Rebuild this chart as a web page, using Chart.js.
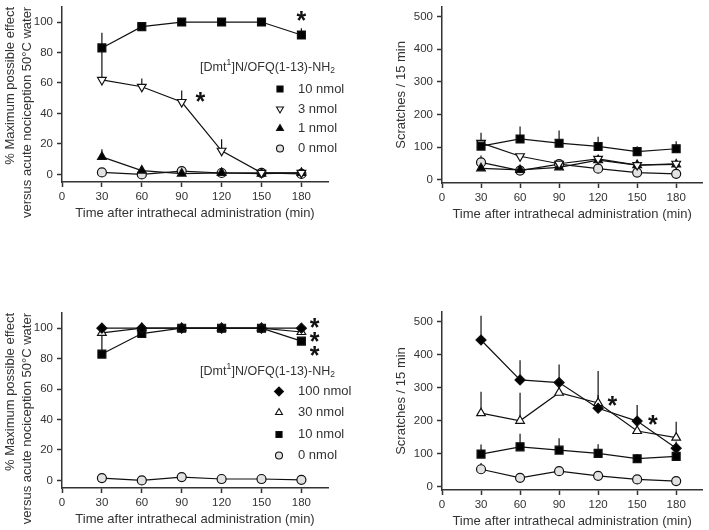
<!DOCTYPE html>
<html>
<head>
<meta charset="utf-8">
<script src="https://cdn.jsdelivr.net/npm/chart.js@4.4.1/dist/chart.umd.min.js"></script>
<style>
  body { margin: 0; background: #fff; }
  #wrap { position: relative; width: 709px; height: 530px; }
  #wrap canvas { position: absolute; }
</style>
</head>
<body>
<div id="wrap">
  <canvas id="c1" width="354" height="265" style="left:0;top:0"></canvas>
  <canvas id="c2" width="355" height="265" style="left:354px;top:0"></canvas>
  <canvas id="c3" width="354" height="265" style="left:0;top:265px"></canvas>
  <canvas id="c4" width="355" height="265" style="left:354px;top:265px"></canvas>
</div>
<script>
// ---- data ----
const times = [30, 60, 90, 120, 150, 180];
const xTicks = [0, 30, 60, 90, 120, 150, 180];
const mpeTicks = [0, 20, 40, 60, 80, 100];
const scratchTicks = [0, 100, 200, 300, 400, 500];

const xTitle = 'Time after intrathecal administration (min)';
const mpeTitle = ['% Maximum possible effect', 'versus acute nociception 50°C water'];
const scratchTitle = 'Scratches / 15 min';
const legendTitle = ['[Dmt', '1', ']N/OFQ(1-13)-NH', '2'];

// top row: 10, 3, 1, 0 nmol
const lowDoses = ['10 nmol', '3 nmol', '1 nmol', '0 nmol'];
const mpe10 = [83, 97, 100, 100, 100, 91.5];
const mpe10Sem = [10, 2, 0, 0, 0, 4.5];
const mpe3 = [62, 57.5, 47.5, 15.5, 1, 1];
const mpe3Sem = [21, 5.5, 7.5, 7.5, 0, 0];
const mpe1 = [11.5, 2.5, 0.5, 1, 0.5, 1];
const mpe1Sem = [5, 0, 0, 0, 0, 0];
const mpe0 = [1.3, 0, 2.2, 0.9, 1, 0.3];
const mpe0Sem = [0, 0, 0, 0, 0, 0];
const mpeLowStars = [[180, 104], [104, 51]];

const scr10 = [103, 125, 112, 102, 86, 95];
const scr10Sem = [41, 38, 39, 30, 17, 23];
const scr3 = [113, 72, 49, 64, 45, 49];
const scr3Sem = [0, 0, 0, 0, 0, 0];
const scr1 = [35, 30, 38, 60, 45, 47];
const scr1Sem = [0, 0, 0, 0, 0, 0];
const scr0 = [53, 28, 48, 34, 22, 18];
const scr0Sem = [21, 0, 0, 0, 0, 0];

// bottom row: 100, 30, 10, 0 nmol
const highDoses = ['100 nmol', '30 nmol', '10 nmol', '0 nmol'];
const mpeH100 = [100, 100, 100, 100, 100, 100];
const mpeH100Sem = [0, 0, 0, 0, 0, 0];
const mpeH30 = [97, 100, 100, 100, 100, 97.5];
const mpeH30Sem = [0, 0, 0, 0, 0, 0];
const mpeH10 = [83, 96.5, 100, 100, 100, 91.5];
const mpeH10Sem = [12.5, 0, 0, 0, 0, 0];
const mpeH0 = [1.5, 0, 2.2, 0.9, 0.9, 0.4];
const mpeH0Sem = [0, 0, 0, 0, 0, 0];
const mpeHighStars = [[190, 103.5], [190, 94.3], [190, 85.2]];

const scrH100 = [445, 324, 316, 238, 199, 117];
const scrH100Sem = [74, 60, 55, 40, 49, 20];
const scrH30 = [223, 200, 285, 254, 169, 149];
const scrH30Sem = [65, 85, 30, 97, 20, 48];
const scrH10 = [99, 121, 111, 101, 85, 92];
const scrH10Sem = [29, 40, 36, 28, 14, 17];
const scrH0 = [53, 27, 47, 33, 22, 17];
const scrH0Sem = [19, 0, 0, 0, 0, 0];
const scrHighStars = [[131, 260], [162, 202]];

// ---- styling ----
const FONT = '"Liberation Sans", Arial, sans-serif';
const INK = '#333';
Chart.defaults.font.family = FONT;
Chart.defaults.color = INK;

const markers = {
  square:  { pointStyle: 'rect', pointRadius: 5.6, pointRotation: 0, pointBackgroundColor: '#000', lr: 4.3 },
  down:    { pointStyle: 'triangle', pointRadius: 5, pointRotation: 180, pointBackgroundColor: '#fff', lr: 4 },
  up:      { pointStyle: 'triangle', pointRadius: 5, pointRotation: 0, pointBackgroundColor: '#000', lr: 4 },
  upOpen:  { pointStyle: 'triangle', pointRadius: 5, pointRotation: 0, pointBackgroundColor: '#fff', lr: 4 },
  circle:  { pointStyle: 'circle', pointRadius: 4.5, pointRotation: 0, pointBackgroundColor: '#e2e2e2', lr: 3.5 },
  diamond: { pointStyle: 'rectRot', pointRadius: 5, pointRotation: 0, pointBackgroundColor: '#000', lr: 4.5 }
};

function series(label, values, sem, kind) {
  const m = markers[kind];
  return {
    label: label,
    data: times.map((t, i) => ({ x: t, y: values[i] })),
    sem: sem,
    legendRadius: m.lr,
    borderColor: '#111',
    borderWidth: 1.2,
    pointBorderColor: '#111',
    pointBorderWidth: 1.2,
    pointStyle: m.pointStyle,
    pointRadius: m.pointRadius,
    pointRotation: m.pointRotation,
    pointBackgroundColor: m.pointBackgroundColor,
    tension: 0
  };
}

// error bars, stars and the inset legend
const extrasPlugin = {
  id: 'extras',
  beforeDatasetsDraw(chart) {
    const ctx = chart.ctx;
    const ys = chart.scales.y;
    ctx.save();
    ctx.strokeStyle = '#111';
    ctx.lineWidth = 1.2;
    chart.data.datasets.forEach((ds, i) => {
      const meta = chart.getDatasetMeta(i);
      meta.data.forEach((pt, j) => {
        const s = ds.sem[j];
        if (!s) return;
        const top = ys.getPixelForValue(ds.data[j].y + s);
        ctx.beginPath();
        ctx.moveTo(pt.x, pt.y);
        ctx.lineTo(pt.x, top);
        ctx.stroke();
      });
    });
    ctx.restore();
  },
  afterDatasetsDraw(chart, args, opts) {
    const ctx = chart.ctx;
    const xs = chart.scales.x, ys = chart.scales.y;
    ctx.save();
    // stars
    ctx.fillStyle = '#111';
    ctx.font = 'bold 25px ' + FONT;
    ctx.textAlign = 'center';
    ctx.textBaseline = 'alphabetic';
    const m = ctx.measureText('*');
    const shift = (m.actualBoundingBoxAscent - m.actualBoundingBoxDescent) / 2;
    (opts.stars || []).forEach(s => {
      ctx.fillText('*', xs.getPixelForValue(s[0]), ys.getPixelForValue(s[1]) + shift);
    });
    // legend
    const lg = opts.legend;
    if (lg) {
      ctx.fillStyle = INK;
      ctx.textAlign = 'left';
      ctx.textBaseline = 'middle';
      let x = lg.titleX;
      legendTitle.forEach((part, k) => {
        const small = k % 2 === 1;
        ctx.font = (small ? '8.5px ' : '12.5px ') + FONT;
        const dy = small ? (k === 1 ? -5 : 3.5) : 0;
        ctx.fillText(part, x, lg.titleY + dy);
        x += ctx.measureText(part).width + (small ? 0.5 : 0);
      });
      ctx.font = '13px ' + FONT;
      chart.data.datasets.forEach((ds, i) => {
        const y = lg.ys[i];
        ctx.fillStyle = ds.pointBackgroundColor;
        ctx.strokeStyle = '#111';
        ctx.lineWidth = 1.1;
        Chart.helpers.drawPoint(ctx, {
          pointStyle: ds.pointStyle, rotation: ds.pointRotation,
          radius: ds.legendRadius, borderWidth: 1.1
        }, lg.markerX, y);
        ctx.fillStyle = INK;
        ctx.fillText(ds.label, lg.textX, y);
      });
    }
    ctx.restore();
  }
};

function makePanel(id, cfg) {
  return new Chart(document.getElementById(id), {
    type: 'line',
    data: { datasets: cfg.datasets },
    options: {
      responsive: false,
      animation: false,
      devicePixelRatio: 1,
      layout: { padding: cfg.padding },
      plugins: {
        legend: { display: false },
        tooltip: { enabled: false },
        extras: { stars: cfg.stars, legend: cfg.legend }
      },
      scales: {
        x: {
          type: 'linear', min: 0, max: 200,
          afterBuildTicks: s => { s.ticks = xTicks.map(v => ({ value: v })); },
          afterFit: s => { s.height = 40; s.paddingLeft = 0; s.paddingRight = 0; },
          grid: { drawOnChartArea: false, drawTicks: true, tickLength: 5, tickWidth: 1.5, tickColor: INK },
          border: { color: INK, width: 1.5 },
          ticks: { padding: 3, maxRotation: 0, font: { size: 11.5 }, color: INK },
          title: { display: true, text: xTitle, font: { size: 13, lineHeight: 1.3 }, padding: 0, color: INK }
        },
        y: {
          min: cfg.yMin, max: cfg.yMax,
          afterBuildTicks: s => { s.ticks = cfg.yTicks.map(v => ({ value: v })); },
          afterFit: s => { s.width = cfg.yWidth; s.paddingTop = 0; s.paddingBottom = 0; },
          grid: { drawOnChartArea: false, drawTicks: true, tickLength: 5, tickWidth: 1.5, tickColor: INK },
          border: { color: INK, width: 1.5 },
          ticks: { padding: 4, font: { size: 11.5 }, color: INK },
          title: {
            display: true, text: cfg.yTitle, align: cfg.yAlign,
            font: { size: 13, lineHeight: 1.3 }, padding: { top: cfg.yTitlePad, bottom: 0 }, color: INK
          }
        }
      }
    },
    plugins: [extrasPlugin]
  });
}

makePanel('c1', {
  datasets: [
    series(lowDoses[0], mpe10, mpe10Sem, 'square'),
    series(lowDoses[1], mpe3, mpe3Sem, 'down'),
    series(lowDoses[2], mpe1, mpe1Sem, 'up'),
    series(lowDoses[3], mpe0, mpe0Sem, 'circle')
  ],
  padding: { left: 0, top: 5, right: 26, bottom: 43 },
  yWidth: 62, yMin: -5, yMax: 110, yTicks: mpeTicks,
  yTitle: mpeTitle, yAlign: 'end', yTitlePad: 2,
  stars: mpeLowStars,
  legend: { titleX: 200, titleY: 67.5, markerX: 280, textX: 298, ys: [89, 109, 128.5, 148.5] }
});

makePanel('c2', {
  datasets: [
    series(lowDoses[0], scr10, scr10Sem, 'square'),
    series(lowDoses[1], scr3, scr3Sem, 'down'),
    series(lowDoses[2], scr1, scr1Sem, 'up'),
    series(lowDoses[3], scr0, scr0Sem, 'circle')
  ],
  padding: { left: 0, top: 5, right: 2, bottom: 42 },
  yWidth: 88, yMin: -10, yMax: 530, yTicks: scratchTicks,
  yTitle: scratchTitle, yAlign: 'center', yTitlePad: 39,
  stars: []
});

makePanel('c3', {
  datasets: [
    series(highDoses[0], mpeH100, mpeH100Sem, 'diamond'),
    series(highDoses[1], mpeH30, mpeH30Sem, 'upOpen'),
    series(highDoses[2], mpeH10, mpeH10Sem, 'square'),
    series(highDoses[3], mpeH0, mpeH0Sem, 'circle')
  ],
  padding: { left: 0, top: 48, right: 26, bottom: 2 },
  yWidth: 62, yMin: -5, yMax: 110, yTicks: mpeTicks,
  yTitle: mpeTitle, yAlign: 'end', yTitlePad: 2,
  stars: mpeHighStars,
  legend: { titleX: 200, titleY: 106.5, markerX: 279, textX: 298, ys: [126.5, 147.5, 169.5, 190.5] }
});

makePanel('c4', {
  datasets: [
    series(highDoses[0], scrH100, scrH100Sem, 'diamond'),
    series(highDoses[1], scrH30, scrH30Sem, 'upOpen'),
    series(highDoses[2], scrH10, scrH10Sem, 'square'),
    series(highDoses[3], scrH0, scrH0Sem, 'circle')
  ],
  padding: { left: 0, top: 47, right: 2, bottom: 0 },
  yWidth: 88, yMin: -10, yMax: 530, yTicks: scratchTicks,
  yTitle: scratchTitle, yAlign: 'center', yTitlePad: 39,
  stars: scrHighStars
});
</script>
</body>
</html>
